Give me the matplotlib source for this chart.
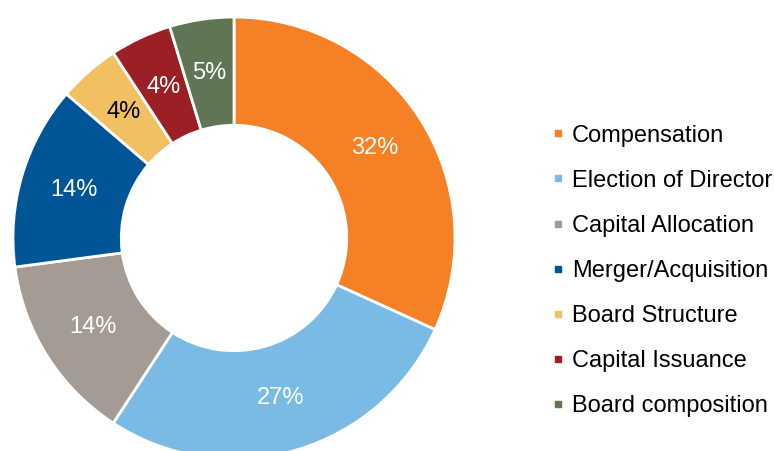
import matplotlib
matplotlib.use("Agg")
import matplotlib.pyplot as plt
from matplotlib.lines import Line2D

categories = ["Compensation", "Election of Director", "Capital Allocation",
              "Merger/Acquisition", "Board Structure", "Capital Issuance",
              "Board composition"]
values = [31.8, 27.4, 13.7, 13.4, 4.5, 4.5, 4.7]
pct_labels = ["32%", "27%", "14%", "14%", "4%", "4%", "5%"]
colors = ["#F58025", "#7ABBE6", "#A39B94", "#005596", "#F0C063", "#9B1F24", "#607553"]
label_colors = ["white", "white", "white", "white", "black", "white", "white"]

plt.rcParams['font.family'] = ['Liberation Sans', 'DejaVu Sans']

W, H = 774, 451
fig = plt.figure(figsize=(W / 100, H / 100), dpi=100)
cx, cy, R = 234, 238, 221
ax = fig.add_axes([(cx - R) / W, (H - cy - R) / H, 2 * R / W, 2 * R / H])

wedges, texts = ax.pie(values, colors=colors, startangle=90, counterclock=False,
                       labels=pct_labels, labeldistance=0.755,
                       wedgeprops=dict(width=0.49, edgecolor="white", linewidth=2),
                       textprops=dict(fontsize=17))
for t, c in zip(texts, label_colors):
    t.set_color(c)
    t.set_horizontalalignment("center")
    t.set_verticalalignment("center")
ax.set_xlim(-1, 1)
ax.set_ylim(-1, 1)
ax.set_aspect("equal")
ax.axis("off")

handles = [Line2D([], [], linestyle="none", marker="s", markersize=4.5,
                  markerfacecolor=c, markeredgecolor=c) for c in colors]
fig.legend(handles, categories, loc="center left",
           bbox_to_anchor=(552 / W, 1 - 271 / H), frameon=False,
           fontsize=17, handlelength=0.5, handletextpad=0.35,
           labelspacing=0.98, borderpad=0, borderaxespad=0)

fig.savefig("out.png", dpi=100, facecolor="white")
